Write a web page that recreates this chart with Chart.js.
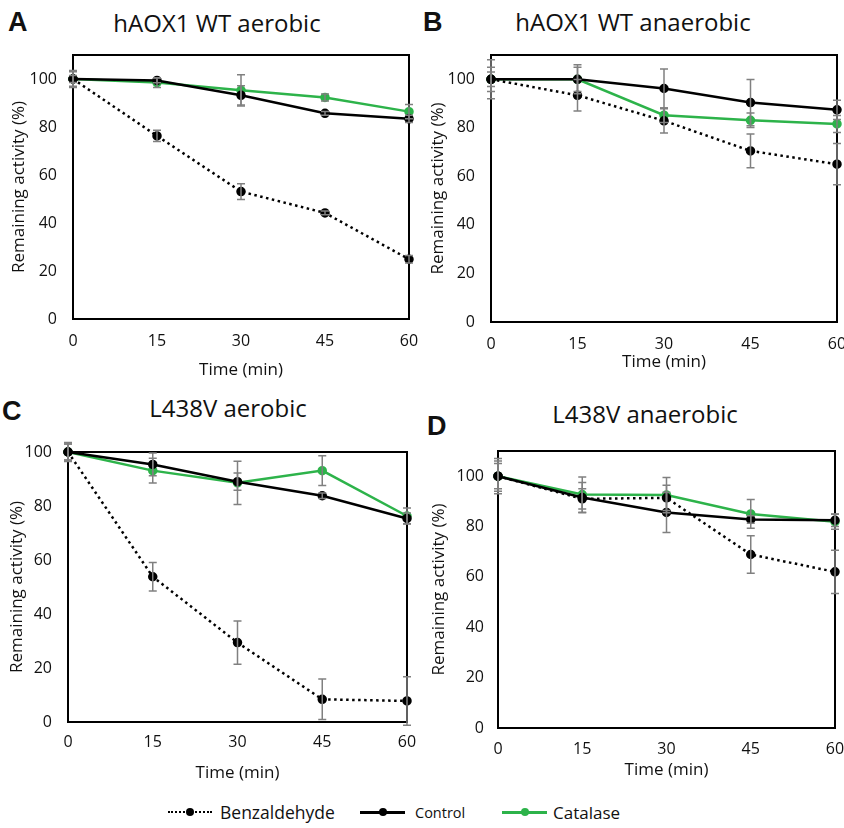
<!DOCTYPE html>
<html>
<head>
<meta charset="utf-8">
<script src="https://cdn.jsdelivr.net/npm/chart.js@4.4.0/dist/chart.umd.min.js"></script>
<style>
  body { margin: 0; background: #fff; width: 844px; height: 828px; position: relative; overflow: hidden; font-family: 'Open Sans', sans-serif; color: #111; }
  canvas { position: absolute; }
  .letter { position: absolute; font: bold 27px/27px 'Liberation Sans', Arial, sans-serif; }
  .title { position: absolute; font-size: 24px; line-height: 24px; transform: translate(-50%, -50%); white-space: nowrap; }
  .lg { position: absolute; top: 812px; transform: translateY(-50%); white-space: nowrap; }
  .ln { position: absolute; top: 812px; height: 0; }
  .dot { position: absolute; top: 808px; width: 8px; height: 8px; border-radius: 50%; }
</style>
</head>
<body>
<div class="letter" style="left:8px;top:9px">A</div>
<div class="title" style="left:217px;top:23px">hAOX1 WT aerobic</div>
<div class="letter" style="left:423px;top:9px">B</div>
<div class="title" style="left:633px;top:22px">hAOX1 WT anaerobic</div>
<div class="letter" style="left:2px;top:398px">C</div>
<div class="title" style="left:228px;top:408px">L438V aerobic</div>
<div class="letter" style="left:427px;top:413px">D</div>
<div class="title" style="left:645px;top:414px">L438V anaerobic</div>

<canvas id="cA" width="422" height="350" style="left:0;top:40px"></canvas>
<canvas id="cB" width="422" height="350" style="left:422px;top:40px"></canvas>
<canvas id="cC" width="422" height="360" style="left:0;top:430px"></canvas>
<canvas id="cD" width="422" height="360" style="left:422px;top:430px"></canvas>

<!-- legend -->
<div class="ln" style="left:168px;width:44px;border-top:2.5px dotted #000;margin-top:-1px"></div>
<div class="dot" style="left:186px;background:#000"></div>
<div class="lg" style="left:220px;font-size:17.5px">Benzaldehyde</div>
<div class="ln" style="left:360px;width:45px;border-top:3px solid #000;margin-top:-1.5px"></div>
<div class="dot" style="left:379px;background:#000"></div>
<div class="lg" style="left:415px;font-size:14.5px">Control</div>
<div class="ln" style="left:502px;width:45px;border-top:3px solid #2db34a;margin-top:-1.5px"></div>
<div class="dot" style="left:521px;background:#2db34a"></div>
<div class="lg" style="left:553px;font-size:17px">Catalase</div>

<script>
const times = [0, 15, 30, 45, 60];
const xTicks = [0, 15, 30, 45, 60];
const yTicks = [0, 20, 40, 60, 80, 100];

// A - hAOX1 WT aerobic
const aBenz = [100, 76.3, 53.1, 44.2, 24.9];
const aBenzErr = [3.5, 2.3, 3.3, 0.8, 1.6];
const aControl = [100, 99.4, 93.2, 85.7, 83.4];
const aControlErr = [1.5, 1, 4, 0.8, 1.5];
const aCatalase = [100, 98.5, 95.3, 92.3, 86.4];
const aCatalaseErr = [3, 2, 6.5, 1.5, 3];

// B - hAOX1 WT anaerobic
const bBenz = [100, 93.4, 82.9, 70.5, 65];
const bBenzErr = [3, 6.5, 5, 7, 8.5];
const bControl = [100, 100, 96.2, 90.4, 87.4];
const bControlErr = [8, 5, 8, 9.5, 4];
const bCatalase = [100, 100, 85.2, 83.1, 81.6];
const bCatalaseErr = [5, 6, 3, 3, 3.5];

// C - L438V aerobic
const cBenz = [100, 53.8, 29.4, 8.4, 7.8];
const cBenzErr = [3, 5.3, 8, 7.5, 9];
const cControl = [100, 95.4, 89, 83.8, 75.4];
const cControlErr = [3.5, 4.2, 3.2, 1, 2];
const cCatalase = [100, 93.1, 88.6, 93.1, 76.3];
const cCatalaseErr = [3, 4.6, 8, 5.5, 3];

// D - L438V anaerobic
const dBenz = [100, 91, 91.4, 68.9, 62];
const dBenzErr = [5, 4, 5, 7.4, 8.6];
const dControl = [100, 91.5, 85.6, 82.8, 82.5];
const dControlErr = [7, 6, 8, 1.5, 2.5];
const dCatalase = [100, 92.7, 92.5, 85, 81.9];
const dCatalaseErr = [6, 7, 7, 5.7, 3];

const GREEN = '#2db34a';
Chart.defaults.font.family = "'Open Sans', sans-serif";
Chart.defaults.color = '#111';

const pts = vals => times.map((t, i) => ({ x: t, y: vals[i] }));

// grey error bars, drawn from the scales
const errorBars = {
  id: 'errorBars',
  afterDatasetsDraw(chart) {
    const { ctx, scales: { x, y } } = chart;
    ctx.save();
    ctx.strokeStyle = '#808080';
    ctx.lineWidth = 1.5;
    chart.data.datasets.forEach(ds => {
      ds.data.forEach((p, j) => {
        const e = ds.errors[j];
        const px = x.getPixelForValue(p.x);
        const t = y.getPixelForValue(p.y + e);
        const b = y.getPixelForValue(p.y - e);
        ctx.beginPath();
        ctx.moveTo(px, t); ctx.lineTo(px, b);
        ctx.moveTo(px - 4, t); ctx.lineTo(px + 4, t);
        ctx.moveTo(px - 4, b); ctx.lineTo(px + 4, b);
        ctx.stroke();
      });
    });
    ctx.restore();
  }
};

// black frame around the plot area
const frame = {
  id: 'frame',
  beforeDatasetsDraw(chart) {
    const { ctx, chartArea: a } = chart;
    ctx.save();
    ctx.strokeStyle = '#000';
    ctx.lineWidth = 2;
    ctx.strokeRect(a.left, a.top, a.right - a.left, a.bottom - a.top);
    ctx.restore();
  }
};

function makeChart(id, s) {
  return new Chart(document.getElementById(id), {
    type: 'line',
    data: {
      datasets: [
        { label: 'Benzaldehyde', data: pts(s.benz), errors: s.benzErr, borderColor: '#000', backgroundColor: '#000',
          borderWidth: 2.5, borderDash: [2.5, 3.5], pointRadius: 3.5, pointHoverRadius: 3.5, clip: false },
        { label: 'Control', data: pts(s.control), errors: s.controlErr, borderColor: '#000', backgroundColor: '#000',
          borderWidth: 2.5, pointRadius: 3.5, pointHoverRadius: 3.5, clip: false },
        { label: 'Catalase', data: pts(s.catalase), errors: s.catalaseErr, borderColor: GREEN, backgroundColor: GREEN,
          borderWidth: 2.5, pointRadius: 3.5, pointHoverRadius: 3.5, clip: false }
      ]
    },
    options: {
      responsive: false,
      animation: false,
      devicePixelRatio: 1,
      layout: { padding: { top: s.padTop, right: s.padRight, left: 0, bottom: 0 } },
      plugins: { legend: { display: false }, tooltip: { enabled: false } },
      scales: {
        x: {
          type: 'linear', min: 0, max: 60,
          afterBuildTicks: sc => { sc.ticks = xTicks.map(v => ({ value: v })); },
          afterFit: sc => { sc.height = s.xH; sc.paddingLeft = 0; sc.paddingRight = 0; },
          grid: { display: false, drawTicks: false },
          border: { display: false },
          ticks: { padding: s.xTickPad, font: { size: 16 }, color: '#111' },
          title: { display: true, text: 'Time (min)', font: { size: 17 }, color: '#111', padding: { top: 0, bottom: s.xTitlePad } }
        },
        y: {
          min: 0, max: s.yMax,
          afterBuildTicks: sc => { sc.ticks = yTicks.map(v => ({ value: v })); },
          afterFit: sc => { sc.width = s.yW; sc.paddingTop = 0; sc.paddingBottom = 0; },
          grid: { display: false, drawTicks: false },
          border: { display: false },
          ticks: { padding: s.yTickPad, font: { size: 16 }, color: '#111' },
          title: { display: true, text: 'Remaining activity (%)', font: { size: 17 }, color: '#111', padding: { top: s.yTitlePad, bottom: 0 } }
        }
      }
    },
    plugins: [frame, errorBars]
  });
}

makeChart('cA', { benz: aBenz, benzErr: aBenzErr, control: aControl, controlErr: aControlErr, catalase: aCatalase, catalaseErr: aCatalaseErr,
  yMax: 110, padTop: 15, padRight: 13, yW: 73, xH: 71, yTickPad: 16, xTickPad: 13, yTitlePad: 9, xTitlePad: 10 });
makeChart('cB', { benz: bBenz, benzErr: bBenzErr, control: bControl, controlErr: bControlErr, catalase: bCatalase, catalaseErr: bCatalaseErr,
  yMax: 110, padTop: 15, padRight: 7, yW: 69, xH: 68, yTickPad: 16, xTickPad: 13, yTitlePad: 6, xTitlePad: 18 });
makeChart('cC', { benz: cBenz, benzErr: cBenzErr, control: cControl, controlErr: cControlErr, catalase: cCatalase, catalaseErr: cCatalaseErr,
  yMax: 100, padTop: 22, padRight: 15, yW: 68, xH: 68, yTickPad: 16, xTickPad: 11, yTitlePad: 7, xTitlePad: 7 });
makeChart('cD', { benz: dBenz, benzErr: dBenzErr, control: dControl, controlErr: dControlErr, catalase: dCatalase, catalaseErr: dCatalaseErr,
  yMax: 110, padTop: 21, padRight: 9, yW: 76, xH: 62, yTickPad: 14, xTickPad: 12, yTitlePad: 7, xTitlePad: 10 });
</script>
</body>
</html>
